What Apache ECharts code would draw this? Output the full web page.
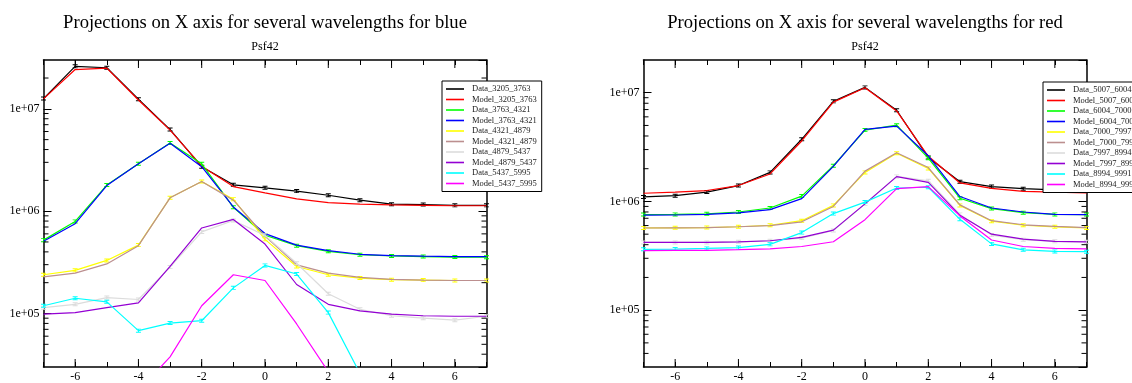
<!DOCTYPE html>
<html>
<head>
<meta charset="utf-8">
<script src="https://cdn.jsdelivr.net/npm/echarts@6/dist/echarts.min.js"></script>
<style>
html,body{margin:0;padding:0;background:#fff;}
#chart{width:1132px;height:383px;}
</style>
</head>
<body>
<div id="chart"></div>
<script>
// ---- data ----
const xValues = [-7,-6,-5,-4,-3,-2,-1,0,1,2,3,4,5,6,7];

const blueNames = ['Data_3205_3763','Model_3205_3763','Data_3763_4321','Model_3763_4321','Data_4321_4879','Model_4321_4879','Data_4879_5437','Model_4879_5437','Data_5437_5995','Model_5437_5995'];
const redNames  = ['Data_5007_6004','Model_5007_6004','Data_6004_7000','Model_6004_7000','Data_7000_7997','Model_7000_7997','Data_7997_8994','Model_7997_8994','Data_8994_9991','Model_8994_9991'];

// blue panel
const data_3205_3763  = [1.26e7,2.60e7,2.52e7,1.24e7,6.27e6,2.72e6,1.81e6,1.69e6,1.57e6,1.43e6,1.28e6,1.17e6,1.16e6,1.14e6,1.14e6];
const model_3205_3763 = [1.25e7,2.42e7,2.50e7,1.22e7,6.20e6,2.75e6,1.74e6,1.51e6,1.32e6,1.21e6,1.17e6,1.15e6,1.14e6,1.13e6,1.13e6];
const data_3763_4321  = [5.21e5,7.94e5,1.80e6,2.91e6,4.64e6,2.90e6,1.09e6,5.82e5,4.60e5,4.05e5,3.75e5,3.65e5,3.60e5,3.56e5,3.55e5];
const model_3763_4321 = [5.07e5,7.54e5,1.78e6,2.90e6,4.60e6,2.72e6,1.10e6,6.04e5,4.66e5,4.11e5,3.79e5,3.68e5,3.63e5,3.60e5,3.59e5];
const data_4321_4879  = [2.39e5,2.64e5,3.30e5,4.66e5,1.35e6,1.95e6,1.31e6,5.30e5,2.88e5,2.39e5,2.22e5,2.14e5,2.12e5,2.10e5,2.10e5];
const model_4321_4879 = [2.28e5,2.48e5,3.05e5,4.60e5,1.35e6,1.95e6,1.28e6,5.70e5,2.99e5,2.48e5,2.25e5,2.15e5,2.12e5,2.10e5,2.10e5];
const data_4879_5437  = [1.14e5,1.23e5,1.43e5,1.37e5,2.84e5,6.27e5,8.10e5,5.80e5,3.10e5,1.56e5,1.10e5,9.50e4,9.00e4,8.60e4,9.40e4];
const model_4879_5437 = [9.85e4,1.02e5,1.14e5,1.27e5,2.88e5,6.85e5,8.30e5,4.77e5,1.92e5,1.23e5,1.06e5,9.85e4,9.50e4,9.40e4,9.40e4];
const data_5437_5995  = [1.19e5,1.41e5,1.30e5,6.80e4,8.06e4,8.50e4,1.78e5,2.95e5,2.43e5,1.02e5,2.60e4,1.20e4,9.00e3,8.00e3,8.00e3];
const model_5437_5995 = [5.00e3,7.00e3,1.00e4,1.75e4,3.77e4,1.19e5,2.39e5,2.10e5,7.90e4,2.70e4,9.00e3,5.00e3,4.00e3,3.00e3,3.00e3];

// red panel
const data_5007_6004  = [1.10e6,1.13e6,1.22e6,1.40e6,1.85e6,3.73e6,8.33e6,1.12e7,6.90e6,2.54e6,1.52e6,1.37e6,1.31e6,1.28e6,1.27e6];
const model_5007_6004 = [1.19e6,1.22e6,1.26e6,1.40e6,1.79e6,3.60e6,8.20e6,1.11e7,6.80e6,2.60e6,1.48e6,1.32e6,1.24e6,1.22e6,1.20e6];
const data_6004_7000  = [7.57e5,7.60e5,7.70e5,8.00e5,8.70e5,1.12e6,2.13e6,4.53e6,5.03e6,2.50e6,1.07e6,8.60e5,7.88e5,7.60e5,7.57e5];
const model_6004_7000 = [7.47e5,7.50e5,7.60e5,7.85e5,8.40e5,1.06e6,2.10e6,4.60e6,4.93e6,2.63e6,1.11e6,8.70e5,8.00e5,7.60e5,7.57e5];
const data_7000_7997  = [5.71e5,5.72e5,5.75e5,5.85e5,6.04e5,6.65e5,9.20e5,1.85e6,2.78e6,2.01e6,9.20e5,6.58e5,6.04e5,5.84e5,5.71e5];
const model_7000_7997 = [5.70e5,5.72e5,5.75e5,5.85e5,6.00e5,6.50e5,9.00e5,1.90e6,2.80e6,2.05e6,9.30e5,6.65e5,6.10e5,5.90e5,5.75e5];
const data_7997_8994  = [4.20e5,4.20e5,4.20e5,4.25e5,4.35e5,4.60e5,5.40e5,9.50e5,1.70e6,1.55e6,7.60e5,4.90e5,4.45e5,4.30e5,4.25e5];
const model_7997_8994 = [4.20e5,4.20e5,4.20e5,4.25e5,4.35e5,4.67e5,5.45e5,9.50e5,1.69e6,1.50e6,7.45e5,5.00e5,4.50e5,4.30e5,4.25e5];
const data_8994_9991  = [3.63e5,3.65e5,3.70e5,3.76e5,4.03e5,5.17e5,7.73e5,9.86e5,1.33e6,1.35e6,6.85e5,4.07e5,3.59e5,3.47e5,3.45e5];
const model_8994_9991 = [3.53e5,3.55e5,3.55e5,3.60e5,3.66e5,3.85e5,4.26e5,6.80e5,1.31e6,1.37e6,7.36e5,4.42e5,3.85e5,3.70e5,3.66e5];

// tick values
const xMajorTicks = [-6,-4,-2,0,2,4,6];
const yMinorTicksBlue = [4e4,5e4,6e4,7e4,8e4,9e4,2e5,3e5,4e5,5e5,6e5,7e5,8e5,9e5,2e6,3e6,4e6,5e6,6e6,7e6,8e6,9e6,2e7];
const yMinorTicksRed  = [4e4,5e4,6e4,7e4,8e4,9e4,2e5,3e5,4e5,5e5,6e5,7e5,8e5,9e5,2e6,3e6,4e6,5e6,6e6,7e6,8e6,9e6];

const blueSeriesData = [data_3205_3763,model_3205_3763,data_3763_4321,model_3763_4321,data_4321_4879,model_4321_4879,data_4879_5437,model_4879_5437,data_5437_5995,model_5437_5995];
const redSeriesData  = [data_5007_6004,model_5007_6004,data_6004_7000,model_6004_7000,data_7000_7997,model_7000_7997,data_7997_8994,model_7997_8994,data_8994_9991,model_8994_9991];

// ---- styling ----
const colors = ['#000000','#ff0000','#00ff00','#0000ff','#ffff00','#bc8f8f','#dcdcdc','#9400d3','#00ffff','#ff00ff'];
const FONT = 'Liberation Serif';
const XMIN = -7, XMAX = 7;
const panels = [
  {names: blueNames, data: blueSeriesData, ymin: 3e4, ymax: 3e7, minor: yMinorTicksBlue,
   left: 43.5, top: 60, width: 443, height: 310,
   title: 'Projections on X axis for several wavelengths for blue', legendLeft: 442, legendTop: 81},
  {names: redNames, data: redSeriesData, ymin: 3e4, ymax: 2e7, minor: yMinorTicksRed,
   left: 643.5, top: 60, width: 443, height: 310,
   title: 'Projections on X axis for several wavelengths for red', legendLeft: 1043, legendTop: 82}
];

const ibeam = 'path://M0,0H6V1.2H0Z M2.4,1.2H3.6V3.8H2.4Z M0,3.8H6V5H0Z';

function expFmt(v){
  const e = Math.round(Math.log10(v));
  return '1e+' + String(e).padStart(2,'0');
}

const option = {
  animation: false,
  backgroundColor: '#fff',
  title: [], grid: [], xAxis: [], yAxis: [], legend: [], series: []
};

panels.forEach((p, i) => {
  const cx = p.left + p.width/2;
  option.title.push({text: p.title, left: cx, top: 14, textAlign: 'center', padding: 0,
    textStyle: {fontFamily: FONT, fontSize: 18.6, fontWeight: 'normal', color: '#000'}});
  option.title.push({text: 'Psf42', left: cx, top: 41, textAlign: 'center', padding: 0,
    textStyle: {fontFamily: FONT, fontSize: 12, fontWeight: 'normal', color: '#000'}});
  option.grid.push({left: p.left, top: p.top, width: p.width, height: p.height, containLabel: false});
  const axLine = {show: true, onZero: false, lineStyle: {color: '#000', width: 1.5}};
  // bottom x
  option.xAxis.push({gridIndex: i, type: 'value', min: XMIN, max: XMAX, interval: 1, position: 'bottom',
    axisLine: axLine, splitLine: {show: false},
    axisTick: {show: true, inside: true, length: 5, lineStyle: {color: '#000', width: 1}},
    axisLabel: {show: true, margin: 4, fontFamily: FONT, fontSize: 12, color: '#000',
      formatter: v => (Math.abs(v % 2) === 0 ? String(v) : '')}});
  // top x
  option.xAxis.push({gridIndex: i, type: 'value', min: XMIN, max: XMAX, interval: 1, position: 'top',
    axisLine: axLine, splitLine: {show: false},
    axisTick: {show: true, inside: true, length: 5, lineStyle: {color: '#000', width: 1}},
    axisLabel: {show: false}});
  // left y
  option.yAxis.push({gridIndex: i, type: 'log', logBase: 10, min: p.ymin, max: p.ymax, position: 'left',
    axisLine: axLine, splitLine: {show: false},
    axisTick: {show: true, inside: true, length: 8, lineStyle: {color: '#000', width: 1}},
    axisLabel: {show: true, margin: 4, fontFamily: FONT, fontSize: 12, color: '#000',
      showMinLabel: false, showMaxLabel: false, formatter: expFmt}});
  // right y
  option.yAxis.push({gridIndex: i, type: 'log', logBase: 10, min: p.ymin, max: p.ymax, position: 'right',
    axisLine: axLine, splitLine: {show: false},
    axisTick: {show: true, inside: true, length: 8, lineStyle: {color: '#000', width: 1}},
    axisLabel: {show: false}});

  option.legend.push({
    data: p.names, orient: 'vertical', left: p.legendLeft, top: p.legendTop,
    icon: 'rect', itemWidth: 18, itemHeight: 1.6, itemGap: 0.5,
    padding: [3, 5, 3, 4], borderColor: '#000', borderWidth: 1, backgroundColor: '#fff',
    textStyle: {fontFamily: FONT, fontSize: 8.5, color: '#222', lineHeight: 10, padding: [0,0,0,3]},
    selectedMode: false, z: 10
  });

  p.names.forEach((name, k) => {
    const isData = k % 2 === 0;
    option.series.push({
      name: name, type: 'line', xAxisIndex: 2*i, yAxisIndex: 2*i,
      data: xValues.map((x, j) => [x, p.data[k][j]]),
      color: colors[k],
      lineStyle: {width: 1.2, color: colors[k]},
      itemStyle: {color: colors[k]},
      showSymbol: isData, symbol: ibeam, symbolSize: [5, 4],
      clip: true, silent: true, z: 2 + k * 0.01
    });
  });

  // major x ticks (longer), bottom and top
  option.series.push({
    type: 'custom', xAxisIndex: 2*i, yAxisIndex: 2*i, silent: true, clip: false, z: 5,
    data: xMajorTicks.map(v => [v, p.ymin]),
    renderItem: (params, api) => {
      const cs = params.coordSys;
      const x = api.coord([api.value(0), p.ymin])[0];
      const st = {stroke: '#000', lineWidth: 1};
      return {type: 'group', children: [
        {type: 'line', shape: {x1: x, y1: cs.y + cs.height, x2: x, y2: cs.y + cs.height - 8}, style: st},
        {type: 'line', shape: {x1: x, y1: cs.y, x2: x, y2: cs.y + 8}, style: st}
      ]};
    }
  });
  // minor y ticks, left and right
  option.series.push({
    type: 'custom', xAxisIndex: 2*i, yAxisIndex: 2*i, silent: true, clip: false, z: 5,
    data: p.minor.map(v => [XMIN, v]),
    renderItem: (params, api) => {
      const cs = params.coordSys;
      const y = api.coord([XMIN, api.value(1)])[1];
      const st = {stroke: '#000', lineWidth: 1};
      return {type: 'group', children: [
        {type: 'line', shape: {x1: cs.x, y1: y, x2: cs.x + 5, y2: y}, style: st},
        {type: 'line', shape: {x1: cs.x + cs.width - 5, y1: y, x2: cs.x + cs.width, y2: y}, style: st}
      ]};
    }
  });
});

const chart = echarts.init(document.getElementById('chart'), null, {renderer: 'canvas'});
chart.setOption(option);
</script>
</body>
</html>
